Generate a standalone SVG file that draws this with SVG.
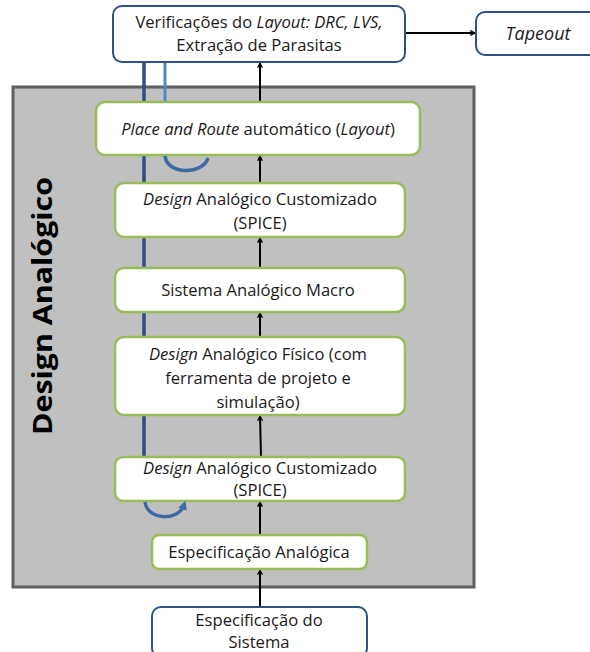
<svg xmlns="http://www.w3.org/2000/svg" width="590" height="652" viewBox="0 0 590 652">
<style>
text{font-family:"Open Sans","Noto Sans","Liberation Sans",sans-serif;font-size:16.6px;fill:#1a1a1a;text-anchor:middle}
.i{font-style:italic}
.g{fill:#fff;stroke:#9bbb59;stroke-width:2.5}
.b{fill:#fff;stroke:#2e5286;stroke-width:2}
.a{stroke:#000;stroke-width:2;fill:none;marker-end:url(#ah)}
.loop{stroke:#3c6aa3;stroke-width:3.5;fill:none}
</style>
<defs>
<marker id="ah" viewBox="0 0 10 10" refX="9" refY="5" markerWidth="6" markerHeight="6" orient="auto" markerUnits="userSpaceOnUse">
<path d="M1,1 L9,5 L1,9" fill="none" stroke="#000" stroke-width="2"/>
</marker>
<marker id="lh" viewBox="0 0 10 10" refX="5" refY="5" markerWidth="9" markerHeight="9" orient="auto" markerUnits="userSpaceOnUse">
<path d="M0,0 L10,5 L0,10 Z" fill="#3c6aa3"/>
</marker>
</defs>
<g id="container">
<rect x="13" y="87" width="461" height="500" fill="#c0c0c0" stroke="#5f5f5f" stroke-width="3"/>
<text transform="translate(52,306) rotate(-90)" x="0" y="0" textLength="258" lengthAdjust="spacingAndGlyphs" style="font-weight:bold;font-size:26px;fill:#000">Design Analógico</text>
</g>
<g id="connectors">
<line x1="144" y1="62" x2="144" y2="457" stroke="#2c4f80" stroke-width="3.5"/>
<line x1="165" y1="62" x2="165" y2="102" stroke="#5585c5" stroke-width="3"/>
<line class="a" x1="405" y1="33" x2="475" y2="33"/>
<line class="a" x1="260" y1="607" x2="260" y2="570"/>
<line class="a" x1="260" y1="535" x2="260" y2="502"/>
<line class="a" x1="261" y1="457" x2="260" y2="416"/>
<line class="a" x1="260" y1="337" x2="260" y2="313"/>
<line class="a" x1="260" y1="268" x2="260" y2="238"/>
<line class="a" x1="260" y1="183" x2="260" y2="156"/>
<line class="a" x1="260" y1="102" x2="260" y2="63"/>
</g>
<g id="n-verif">
<rect class="b" x="113" y="6" width="292" height="56" rx="9"/>
<text x="259" y="28">Verificações do <tspan class="i">Layout: DRC, LVS,</tspan></text>
<text x="259" y="51">Extração de Parasitas</text>
</g>
<g id="n-tapeout">
<rect class="b" x="476" y="12" width="130" height="43" rx="9"/>
<text x="538" y="40" class="i" style="font-size:18px">Tapeout</text>
</g>
<g id="n-pr">
<rect class="g" x="96" y="102" width="324" height="53" rx="9"/>
<text x="258" y="135"><tspan class="i">Place and Route</tspan> automático (<tspan class="i">Layout</tspan>)</text>
</g>
<g id="n-design1">
<rect class="g" x="115" y="183" width="290" height="54" rx="9"/>
<text x="260" y="205"><tspan class="i">Design</tspan> Analógico Customizado</text>
<text x="260" y="229">(SPICE)</text>
</g>
<g id="n-macro">
<rect class="g" x="115" y="268" width="290" height="44" rx="9"/>
<text x="258" y="296">Sistema Analógico Macro</text>
</g>
<g id="n-fisico">
<rect class="g" x="115" y="337" width="290" height="78" rx="9"/>
<text x="258" y="360"><tspan class="i">Design</tspan> Analógico Físico (com</text>
<text x="258" y="384">ferramenta de projeto e</text>
<text x="258" y="408">simulação)</text>
</g>
<g id="n-design2">
<rect class="g" x="115" y="457" width="290" height="44" rx="8"/>
<text x="260" y="474"><tspan class="i">Design</tspan> Analógico Customizado</text>
<text x="260" y="496">(SPICE)</text>
</g>
<g id="n-espan">
<rect class="g" x="152" y="535" width="215" height="34" rx="7"/>
<text x="259" y="558">Especificação Analógica</text>
</g>
<g id="n-espsis">
<rect class="b" x="152" y="607" width="215" height="50" rx="9"/>
<text x="259" y="626">Especificação do</text>
<text x="259" y="648">Sistema</text>
</g>
<g id="loops">
<path class="loop" d="M165,156 C167,175 203,175 208,158"/>
<path class="loop" style="marker-end:url(#lh)" d="M145,502 C147,520 178,522 184,505"/>
</g>
</svg>
